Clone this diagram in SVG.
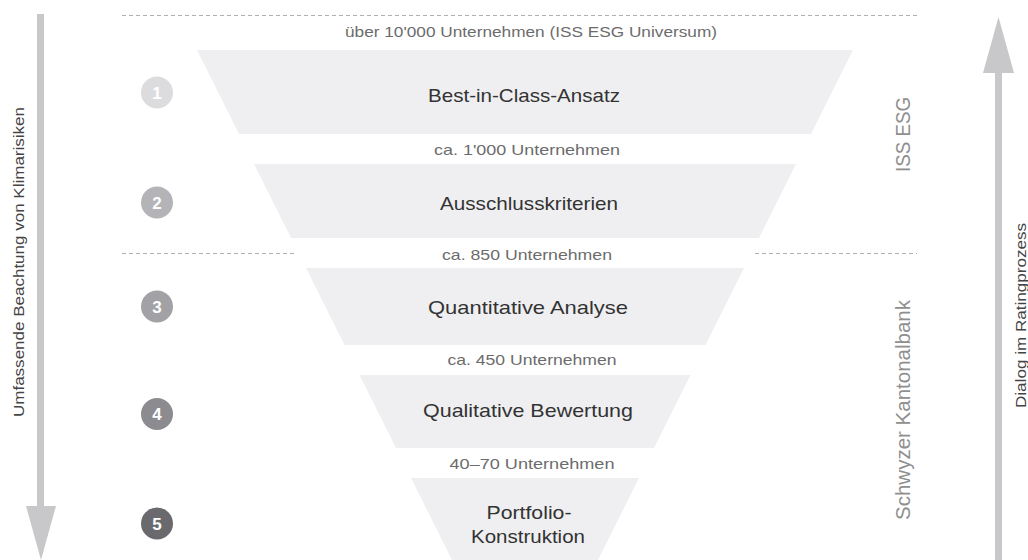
<svg xmlns="http://www.w3.org/2000/svg" width="1028" height="560" viewBox="0 0 1028 560">
<style>
  text { font-family: "Liberation Sans", Arial, sans-serif; }
  .stage { fill: #efeff1; }
  .lbl { font-size: 19px; fill: #333333; text-anchor: middle; }
  .cnt { font-size: 15px; fill: #6c6c6c; text-anchor: middle; }
  .side { font-size: 21px; fill: #8f8f8f; text-anchor: middle; }
  .axis { font-size: 15px; fill: #444444; text-anchor: middle; }
  .num { font-size: 17px; font-weight: bold; fill: #ffffff; text-anchor: middle; }
  .dash { stroke: #b0b0b0; stroke-width: 1; stroke-dasharray: 4 3; fill: none; }
  .arrow { fill: #c8c8ca; }
</style>
<rect width="1028" height="560" fill="#ffffff"/>

<g id="connectors">
  <line class="dash" x1="122" y1="15.5" x2="917" y2="15.5"/>
  <line class="dash" x1="122" y1="253.5" x2="296" y2="253.5"/>
  <line class="dash" x1="755" y1="253.5" x2="917" y2="253.5"/>
  <g id="arrow-left">
    <rect class="arrow" x="37" y="14" width="7" height="494"/>
    <polygon class="arrow" points="26,506 56,506 41,560"/>
  </g>
  <g id="arrow-right">
    <rect class="arrow" x="995" y="71" width="7" height="489"/>
    <polygon class="arrow" points="983,73 1014,73 998.5,17"/>
  </g>
</g>

<text class="cnt" x="531" y="37" textLength="372" lengthAdjust="spacingAndGlyphs">über 10'000 Unternehmen (ISS ESG Universum)</text>

<g id="stage1">
  <polygon class="stage" points="197,50 853,50 811,134 239,134"/>
  <text class="lbl" x="524" y="102" textLength="192" lengthAdjust="spacingAndGlyphs">Best-in-Class-Ansatz</text>
  <circle cx="157" cy="92.5" r="16" fill="#dcdcde"/>
  <text class="num" x="157" y="98.5">1</text>
</g>
<text class="cnt" x="527" y="155" textLength="186" lengthAdjust="spacingAndGlyphs">ca. 1'000 Unternehmen</text>

<g id="stage2">
  <polygon class="stage" points="254,164 796,164 759,238 291,238"/>
  <text class="lbl" x="529" y="210" textLength="178" lengthAdjust="spacingAndGlyphs">Ausschlusskriterien</text>
  <circle cx="157" cy="202.5" r="16" fill="#b4b4b8"/>
  <text class="num" x="157" y="208.5">2</text>
</g>
<text class="cnt" x="527" y="260" textLength="170" lengthAdjust="spacingAndGlyphs">ca. 850 Unternehmen</text>

<g id="stage3">
  <polygon class="stage" points="306,268 744,268 705.5,345 344.5,345"/>
  <text class="lbl" x="528" y="314" textLength="200" lengthAdjust="spacingAndGlyphs">Quantitative Analyse</text>
  <circle cx="157" cy="306.5" r="16" fill="#a2a2a6"/>
  <text class="num" x="157" y="312.5">3</text>
</g>
<text class="cnt" x="532" y="365" textLength="169" lengthAdjust="spacingAndGlyphs">ca. 450 Unternehmen</text>

<g id="stage4">
  <polygon class="stage" points="359.5,375 690.5,375 654,448 396,448"/>
  <text class="lbl" x="528" y="417" textLength="210" lengthAdjust="spacingAndGlyphs">Qualitative Bewertung</text>
  <circle cx="157" cy="414" r="16" fill="#8c8c90"/>
  <text class="num" x="157" y="420">4</text>
</g>
<text class="cnt" x="532" y="469" textLength="165" lengthAdjust="spacingAndGlyphs">40–70 Unternehmen</text>

<g id="stage5">
  <polygon class="stage" points="411,478 639,478 598,560 452,560"/>
  <text class="lbl" x="529" y="519" textLength="85" lengthAdjust="spacingAndGlyphs">Portfolio-</text>
  <text class="lbl" x="528" y="543" textLength="114" lengthAdjust="spacingAndGlyphs">Konstruktion</text>
  <circle cx="157" cy="523.5" r="16" fill="#6a6a6e"/>
  <text class="num" x="157" y="529.5">5</text>
</g>

<g id="label-iss">
  <text class="side" transform="translate(910,134.5) rotate(-90)" textLength="75" lengthAdjust="spacingAndGlyphs">ISS ESG</text>
</g>
<g id="label-szkb">
  <text class="side" transform="translate(910,410) rotate(-90)" textLength="220" lengthAdjust="spacingAndGlyphs">Schwyzer Kantonalbank</text>
</g>
<g id="label-left">
  <text class="axis" transform="translate(24,262) rotate(-90)" textLength="310" lengthAdjust="spacingAndGlyphs">Umfassende Beachtung von Klimarisiken</text>
</g>
<g id="label-right">
  <text class="axis" transform="translate(1026,315.5) rotate(-90)" textLength="185" lengthAdjust="spacingAndGlyphs">Dialog im Ratingprozess</text>
</g>
</svg>
